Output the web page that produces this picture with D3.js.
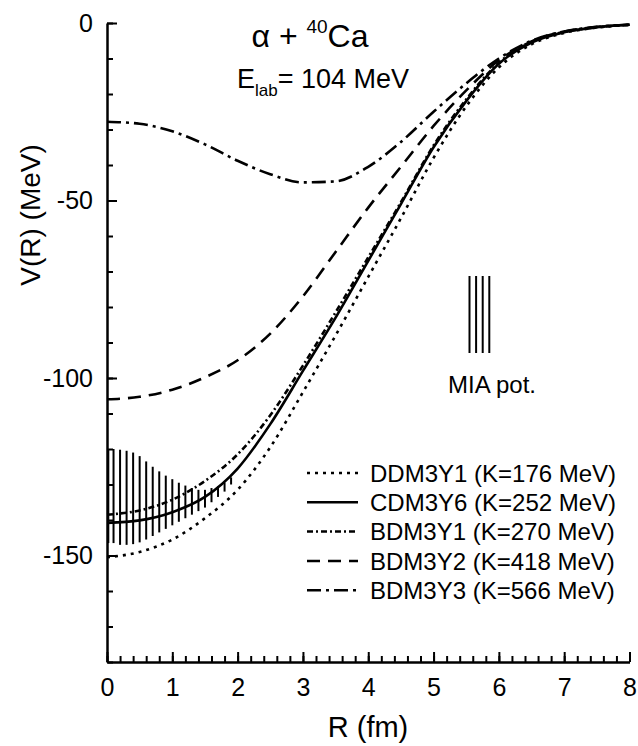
<!DOCTYPE html>
<html>
<head>
<meta charset="utf-8">
<script src="https://cdn.jsdelivr.net/npm/d3@7"></script>
<style>
  body { margin: 0; background: #fff; }
  svg { display: block; }
  text { font-family: "Liberation Sans", Arial, Helvetica, sans-serif; fill: #000; }
</style>
</head>
<body>
<svg id="chart" width="638" height="746"></svg>
<script>
// Folding-model potentials V(R) for alpha + 40Ca at E_lab = 104 MeV
const radius  = [0, 0.5, 1, 1.5, 2, 2.5, 3, 3.5, 4, 4.5, 5, 5.5, 6, 6.5, 7, 7.5, 8];
const ddm3y1  = [-150.5, -149, -145.5, -139.5, -131.5, -119.5, -104, -88, -71.5, -55, -38, -23.5, -12.5, -6, -2.8, -1.3, -0.5];
const cdm3y6  = [-140.8, -140.1, -137.8, -133.5, -125.5, -113, -98, -83, -67, -51, -35, -22, -11.5, -5.5, -2.6, -1.2, -0.5];
const bdm3y1  = [-138.5, -137.3, -134.3, -129, -121.5, -110.5, -96.5, -81.5, -66, -50.5, -34.5, -21.5, -11.2, -5.3, -2.5, -1.2, -0.5];
const bdm3y2  = [-106, -105.3, -103.3, -99.8, -95, -87.5, -77, -64.5, -52, -40.5, -29, -19, -10.5, -5.2, -2.4, -1.1, -0.5];
const bdm3y3  = [-27.8, -28.4, -30.5, -34.2, -38.8, -42.6, -44.9, -44.6, -40.5, -33.5, -25, -17, -10, -5, -2.4, -1.1, -0.5];

const seriesLabels = [
  "DDM3Y1 (K=176 MeV)",
  "CDM3Y6 (K=252 MeV)",
  "BDM3Y1 (K=270 MeV)",
  "BDM3Y2 (K=418 MeV)",
  "BDM3Y3 (K=566 MeV)"
];

// Model-independent (MIA) potential band: lower and upper limits
const miaR     = [0.02, 0.1, 0.2, 0.3, 0.4, 0.5, 0.6, 0.7, 0.8, 0.9, 1.0, 1.1, 1.2, 1.3, 1.4, 1.5, 1.6, 1.7, 1.8, 1.9];
const miaUpper = [-120, -120, -120.2, -120.5, -121, -122, -123.5, -125, -126.3, -127.5, -128.5, -129.5, -130.3, -131, -131.5, -131.5, -131, -130.5, -129.5, -128];
const miaLower = [-146.5, -146.5, -147, -147, -146.8, -146.3, -145.5, -144.5, -143.5, -142.5, -141.5, -140.5, -139.5, -138.5, -137.5, -136.5, -135, -133.5, -132, -130];

const xMajorTicks = [0, 1, 2, 3, 4, 5, 6, 7, 8];
const yMajorTicks = [0, -50, -100, -150];

const svg = d3.select("#chart");
const x = d3.scaleLinear().domain([0, 8]).range([107, 629.5]);
const y = d3.scaleLinear().domain([-180, 0]).range([662, 23]);

const series = [
  { values: ddm3y1, dash: "3,5" },
  { values: cdm3y6, dash: null },
  { values: bdm3y1, dash: "6,3,2,3" },
  { values: bdm3y2, dash: "13,8" },
  { values: bdm3y3, dash: "14,5,3,5" }
];

// MIA hatching
svg.append("g").selectAll("line")
  .data(miaR.map((r, i) => ({ r, lo: miaLower[i], hi: miaUpper[i] })))
  .join("line")
  .attr("x1", d => x(d.r)).attr("x2", d => x(d.r))
  .attr("y1", d => y(d.hi)).attr("y2", d => y(d.lo))
  .attr("stroke", "#000").attr("stroke-width", 2);

// Potential curves
const line = d3.line()
  .x((d, i) => x(radius[i]))
  .y(d => y(d))
  .curve(d3.curveMonotoneX);

svg.append("g").selectAll("path")
  .data(series)
  .join("path")
  .attr("d", d => line(d.values))
  .attr("fill", "none")
  .attr("stroke", "#000")
  .attr("stroke-width", 2.6)
  .attr("stroke-dasharray", d => d.dash);

// Axes (plain hyphen for negative labels)
const plainFormat = d => String(d);
function styleAxis(g) {
  g.select(".domain").attr("stroke-width", 2.5);
  g.selectAll(".tick line").attr("stroke-width", 2);
  g.selectAll(".tick text").style("font-size", "25px").style("font-family", "Liberation Sans, Arial, sans-serif");
}

const xMinor = d3.range(0, 8.001, 0.2).map(v => +v.toFixed(1));
svg.append("g").attr("transform", "translate(0,662)")
  .call(d3.axisBottom(x).tickValues(xMinor).tickSize(-6).tickSizeOuter(0).tickFormat(""))
  .call(g => g.select(".domain").remove())
  .call(g => g.selectAll(".tick line").attr("stroke-width", 2));
svg.append("g").attr("transform", "translate(0,662)")
  .call(d3.axisBottom(x).tickValues(xMajorTicks).tickSize(-10).tickSizeOuter(0).tickPadding(16).tickFormat(plainFormat))
  .call(styleAxis);

const yMinor = d3.range(-180, 0.001, 10);
svg.append("g").attr("transform", "translate(107,0)")
  .call(d3.axisLeft(y).tickValues(yMinor).tickSize(-6).tickSizeOuter(0).tickFormat(""))
  .call(g => g.select(".domain").remove())
  .call(g => g.selectAll(".tick line").attr("stroke-width", 2));
svg.append("g").attr("transform", "translate(107,0)")
  .call(d3.axisLeft(y).tickValues(yMajorTicks).tickSize(-10).tickSizeOuter(0).tickPadding(14).tickFormat(plainFormat))
  .call(styleAxis);

// Axis titles
svg.append("text")
  .attr("transform", "translate(40,215) rotate(-90)")
  .attr("text-anchor", "middle")
  .style("font-size", "28px")
  .text("V(R) (MeV)");
svg.append("text")
  .attr("x", 368).attr("y", 737)
  .attr("text-anchor", "middle")
  .style("font-size", "29px")
  .text("R (fm)");

// Reaction title
const t1 = svg.append("text").attr("x", 310).attr("y", 47).attr("text-anchor", "middle").style("font-size", "32px");
t1.append("tspan").text("α + ");
t1.append("tspan").attr("dy", -14).style("font-size", "19px").text("40");
t1.append("tspan").attr("dy", 14).text("Ca");

const t2 = svg.append("text").attr("x", 323).attr("y", 88).attr("text-anchor", "middle").style("font-size", "27px");
t2.append("tspan").text("E");
t2.append("tspan").attr("dy", 8).style("font-size", "17px").text("lab");
t2.append("tspan").attr("dy", -8).text("= 104 MeV");

// Legend
const legend = svg.append("g").selectAll("g")
  .data(series)
  .join("g")
  .attr("transform", (d, i) => `translate(0,${473 + i * 29.3})`);
legend.append("line")
  .attr("x1", 307).attr("x2", 358).attr("y1", 0).attr("y2", 0)
  .attr("stroke", "#000").attr("stroke-width", 2.5)
  .attr("stroke-dasharray", d => d.dash);
legend.append("text")
  .attr("x", 370).attr("y", 0).attr("dy", "0.36em")
  .style("font-size", "24px")
  .text((d, i) => seriesLabels[i]);

// MIA legend symbol
const mia = svg.append("g");
mia.selectAll("line").data(d3.range(4)).join("line")
  .attr("x1", i => 469.5 + i * 6.6).attr("x2", i => 469.5 + i * 6.6)
  .attr("y1", 276).attr("y2", 353)
  .attr("stroke", "#000").attr("stroke-width", 2);
mia.append("text")
  .attr("x", 492).attr("y", 393).attr("text-anchor", "middle")
  .style("font-size", "24px")
  .text("MIA pot.");
</script>
</body>
</html>
